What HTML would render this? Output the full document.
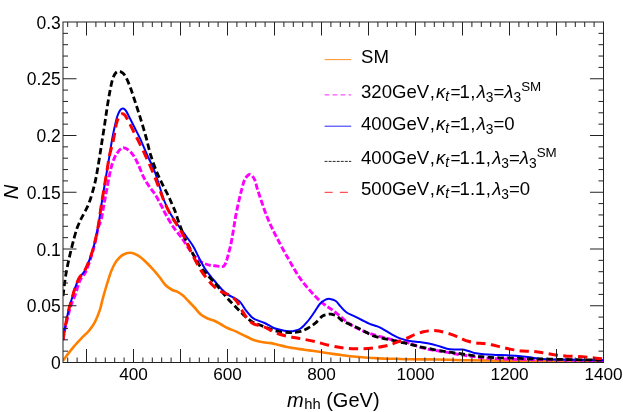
<!DOCTYPE html><html><head><meta charset="utf-8"><style>
html,body{margin:0;padding:0;background:#fff;}body{width:623px;height:412px;position:relative;overflow:hidden;font-family:"Liberation Sans",sans-serif;color:#000;}
.t{position:absolute;white-space:nowrap;font-size:17.2px;line-height:16px;}#tx{position:absolute;left:0;top:0;width:623px;height:412px;will-change:transform;}
.yl{font-size:17.5px;text-align:right;width:60px;left:0.8px;transform-origin:100% 50%;}
.xl{text-align:center;width:60px;transform-origin:50% 50%;}
.lg{font-size:18.6px;line-height:20px;left:361px;}.c{margin:0 1.2px 0 0.4px;}.e{margin:0 -1.0px 0 0.6px;display:inline-block;transform:scaleX(0.93);}
i{font-style:italic;}
sub.s{font-size:0.74em;vertical-align:baseline;position:relative;top:0.27em;line-height:0;}
sup.s{font-size:0.72em;vertical-align:baseline;position:relative;top:-0.54em;line-height:0;}
</style></head><body>
<svg width="623" height="412" viewBox="0 0 623 412" style="position:absolute;left:0;top:0">
<defs><clipPath id="c"><rect x="63.00" y="22.00" width="540.50" height="340.50"/></clipPath></defs>
<g clip-path="url(#c)" fill="none" stroke-linejoin="round">
<path d="M63.00 360.70 C63.63 359.83 65.03 357.82 66.80 355.50 C68.57 353.18 71.17 349.67 73.60 346.80 C76.03 343.93 78.82 341.00 81.40 338.30 C83.98 335.60 86.83 333.33 89.10 330.60 C91.37 327.87 93.22 325.30 95.00 321.90 C96.78 318.50 98.55 313.92 99.80 310.20 C101.05 306.48 101.68 302.67 102.50 299.60 C103.32 296.53 103.85 294.72 104.70 291.80 C105.55 288.88 106.47 285.65 107.60 282.10 C108.73 278.55 110.00 274.05 111.50 270.50 C113.00 266.95 114.75 263.38 116.60 260.80 C118.45 258.22 120.30 256.33 122.60 255.00 C124.90 253.67 127.80 252.70 130.40 252.80 C133.00 252.90 135.67 254.12 138.20 255.60 C140.73 257.08 142.98 259.25 145.60 261.70 C148.22 264.15 151.55 267.70 153.90 270.30 C156.25 272.90 157.77 274.85 159.70 277.30 C161.63 279.75 163.55 282.97 165.50 285.00 C167.45 287.03 169.45 288.38 171.40 289.50 C173.35 290.62 175.27 290.68 177.20 291.70 C179.13 292.72 181.07 293.97 183.00 295.60 C184.93 297.23 186.80 299.43 188.80 301.50 C190.80 303.57 193.00 305.82 195.00 308.00 C197.00 310.18 198.70 312.85 200.80 314.60 C202.90 316.35 205.33 317.47 207.60 318.50 C209.87 319.53 212.13 319.80 214.40 320.80 C216.67 321.80 218.93 323.27 221.20 324.50 C223.47 325.73 225.57 327.05 228.00 328.20 C230.43 329.35 233.22 330.23 235.80 331.40 C238.38 332.57 241.08 334.02 243.50 335.20 C245.92 336.38 248.32 337.60 250.30 338.50 C252.28 339.40 253.25 339.97 255.40 340.60 C257.55 341.23 260.60 341.88 263.20 342.30 C265.80 342.72 268.42 342.65 271.00 343.10 C273.58 343.55 276.12 344.37 278.70 345.00 C281.28 345.63 284.62 346.47 286.50 346.90 C288.38 347.33 287.80 347.23 290.00 347.60 C292.20 347.97 296.47 348.63 299.70 349.10 C302.93 349.57 305.83 349.92 309.40 350.40 C312.97 350.88 317.22 351.42 321.10 352.00 C324.98 352.58 328.82 353.32 332.70 353.90 C336.58 354.48 340.52 355.02 344.40 355.50 C348.28 355.98 352.12 356.42 356.00 356.80 C359.88 357.18 363.82 357.53 367.70 357.80 C371.58 358.07 374.77 358.23 379.30 358.40 C383.83 358.57 389.78 358.67 394.90 358.80 C400.02 358.93 404.25 359.10 410.00 359.20 C415.75 359.30 422.93 359.30 429.40 359.40 C435.87 359.50 442.32 359.65 448.80 359.80 C455.28 359.95 459.27 360.15 468.30 360.30 C477.33 360.45 492.72 360.57 503.00 360.70 C513.28 360.83 513.27 361.00 530.00 361.10 C546.73 361.20 591.17 361.27 603.40 361.30" stroke="#FF8000" stroke-width="2.60"/>
<path d="M63.00 340.00 C63.25 338.50 64.03 333.42 64.50 331.00 C64.97 328.58 65.23 327.92 65.80 325.50 C66.37 323.08 67.17 319.45 67.90 316.50 C68.63 313.55 69.42 310.38 70.20 307.80 C70.98 305.22 71.83 302.97 72.60 301.00 C73.37 299.03 74.07 297.95 74.80 296.00 C75.53 294.05 76.30 291.52 77.00 289.30 C77.70 287.08 78.25 284.62 79.00 282.70 C79.75 280.78 80.42 279.53 81.50 277.80 C82.58 276.07 84.12 275.10 85.50 272.30 C86.88 269.50 88.48 264.87 89.80 261.00 C91.12 257.13 92.33 253.02 93.40 249.10 C94.47 245.18 95.40 241.05 96.20 237.50 C97.00 233.95 97.37 230.78 98.20 227.80 C99.03 224.82 100.28 223.23 101.20 219.60 C102.12 215.97 102.80 210.85 103.70 206.00 C104.60 201.15 105.63 195.67 106.60 190.50 C107.57 185.33 108.53 179.53 109.50 175.00 C110.47 170.47 111.23 166.80 112.40 163.30 C113.57 159.80 114.70 156.60 116.50 154.00 C118.30 151.40 120.70 147.88 123.20 147.70 C125.70 147.52 129.08 150.30 131.50 152.90 C133.92 155.50 135.70 159.30 137.70 163.30 C139.70 167.30 141.57 173.02 143.50 176.90 C145.43 180.78 147.37 183.68 149.30 186.60 C151.23 189.52 153.15 191.33 155.10 194.40 C157.05 197.47 159.22 201.65 161.00 205.00 C162.78 208.35 163.87 211.00 165.80 214.50 C167.73 218.00 170.33 222.58 172.60 226.00 C174.87 229.42 177.70 232.75 179.40 235.00 C181.10 237.25 180.80 236.63 182.80 239.50 C184.80 242.37 188.68 248.70 191.40 252.20 C194.12 255.70 196.90 258.60 199.10 260.50 C201.30 262.40 202.88 262.83 204.60 263.60 C206.32 264.37 207.63 264.73 209.40 265.10 C211.17 265.47 213.43 265.57 215.20 265.80 C216.97 266.03 218.77 266.37 220.00 266.50 C221.23 266.63 221.88 266.75 222.60 266.60 C223.32 266.45 223.80 266.17 224.30 265.60 C224.80 265.03 225.22 264.05 225.60 263.20 C225.98 262.35 226.07 262.28 226.60 260.50 C227.13 258.72 228.10 255.13 228.80 252.50 C229.50 249.87 230.20 247.45 230.80 244.70 C231.40 241.95 231.88 238.95 232.40 236.00 C232.92 233.05 233.30 230.60 233.90 227.00 C234.50 223.40 235.17 218.77 236.00 214.40 C236.83 210.03 237.93 205.02 238.90 200.80 C239.87 196.58 240.82 192.67 241.80 189.10 C242.78 185.53 243.48 181.83 244.80 179.40 C246.12 176.97 248.08 174.50 249.70 174.50 C251.32 174.50 253.22 176.97 254.50 179.40 C255.78 181.83 256.27 185.53 257.40 189.10 C258.53 192.67 259.85 196.58 261.30 200.80 C262.75 205.02 264.40 210.03 266.10 214.40 C267.80 218.77 269.63 222.97 271.50 227.00 C273.37 231.03 275.12 234.40 277.30 238.60 C279.48 242.80 282.48 248.37 284.60 252.20 C286.72 256.03 288.13 258.33 290.00 261.60 C291.87 264.87 293.85 268.63 295.80 271.80 C297.75 274.97 299.43 277.58 301.70 280.60 C303.97 283.62 306.82 286.95 309.40 289.90 C311.98 292.85 314.60 295.78 317.20 298.30 C319.80 300.82 322.42 303.02 325.00 305.00 C327.58 306.98 330.12 308.28 332.70 310.20 C335.28 312.12 337.90 314.37 340.50 316.50 C343.10 318.63 345.72 321.12 348.30 323.00 C350.88 324.88 353.42 326.43 356.00 327.80 C358.58 329.17 360.88 330.05 363.80 331.20 C366.72 332.35 369.62 333.50 373.50 334.70 C377.38 335.90 383.22 337.37 387.10 338.40 C390.98 339.43 392.98 340.08 396.80 340.90 C400.62 341.72 406.18 342.27 410.00 343.30 C413.82 344.33 416.47 346.07 419.70 347.10 C422.93 348.13 426.17 348.85 429.40 349.50 C432.63 350.15 435.87 350.48 439.10 351.00 C442.33 351.52 445.57 352.02 448.80 352.60 C452.03 353.18 455.25 353.95 458.50 354.50 C461.75 355.05 465.05 355.45 468.30 355.90 C471.55 356.35 474.77 356.82 478.00 357.20 C481.23 357.58 484.15 357.93 487.70 358.20 C491.25 358.47 494.77 358.63 499.30 358.80 C503.83 358.97 509.78 359.07 514.90 359.20 C520.02 359.33 515.25 359.35 530.00 359.60 C544.75 359.85 591.17 360.52 603.40 360.70" stroke="#FF00FF" stroke-width="2.90" stroke-dasharray="6.1 2.4"/>
<path d="M63.00 340.00 C63.22 338.50 63.90 333.42 64.30 331.00 C64.70 328.58 64.92 327.92 65.40 325.50 C65.88 323.08 66.57 319.45 67.20 316.50 C67.83 313.55 68.42 310.80 69.20 307.80 C69.98 304.80 71.07 301.38 71.90 298.50 C72.73 295.62 73.42 292.95 74.20 290.50 C74.98 288.05 75.73 285.95 76.60 283.80 C77.47 281.65 78.12 279.65 79.40 277.60 C80.68 275.55 82.68 274.30 84.30 271.50 C85.92 268.70 87.65 264.53 89.10 260.80 C90.55 257.07 91.87 252.98 93.00 249.10 C94.13 245.22 95.08 241.05 95.90 237.50 C96.72 233.95 97.35 230.72 97.90 227.80 C98.45 224.88 98.65 223.63 99.20 220.00 C99.75 216.37 100.45 210.92 101.20 206.00 C101.95 201.08 102.80 196.00 103.70 190.50 C104.60 185.00 105.63 178.83 106.60 173.00 C107.57 167.17 108.60 161.00 109.50 155.50 C110.40 150.00 111.18 144.58 112.00 140.00 C112.82 135.42 113.52 131.95 114.40 128.00 C115.28 124.05 116.33 119.28 117.30 116.30 C118.27 113.32 119.23 111.40 120.20 110.10 C121.17 108.80 122.13 108.37 123.10 108.50 C124.07 108.63 124.87 109.27 126.00 110.90 C127.13 112.53 128.43 115.45 129.90 118.30 C131.37 121.15 133.02 124.45 134.80 128.00 C136.58 131.55 138.50 135.02 140.60 139.60 C142.70 144.18 145.15 150.43 147.40 155.50 C149.65 160.57 152.02 164.67 154.10 170.00 C156.18 175.33 158.27 182.50 159.90 187.50 C161.53 192.50 162.27 195.82 163.90 200.00 C165.53 204.18 167.25 208.27 169.70 212.60 C172.15 216.93 175.88 222.10 178.60 226.00 C181.32 229.90 183.55 232.60 186.00 236.00 C188.45 239.40 191.12 242.73 193.30 246.40 C195.48 250.07 197.15 254.28 199.10 258.00 C201.05 261.72 203.05 265.62 205.00 268.70 C206.95 271.78 208.87 274.07 210.80 276.50 C212.73 278.93 214.67 281.05 216.60 283.30 C218.53 285.55 220.45 288.07 222.40 290.00 C224.35 291.93 226.35 293.60 228.30 294.90 C230.25 296.20 232.48 296.92 234.10 297.80 C235.72 298.68 236.85 299.33 238.00 300.20 C239.15 301.07 239.72 301.33 241.00 303.00 C242.28 304.67 243.93 307.87 245.70 310.20 C247.47 312.53 250.05 315.47 251.60 317.00 C253.15 318.53 252.82 318.40 255.00 319.40 C257.18 320.40 261.47 321.52 264.70 323.00 C267.93 324.48 271.17 327.02 274.40 328.30 C277.63 329.58 281.50 330.22 284.10 330.70 C286.70 331.18 288.38 331.15 290.00 331.20 C291.62 331.25 292.03 331.45 293.80 331.00 C295.57 330.55 298.33 330.05 300.60 328.50 C302.87 326.95 305.20 324.28 307.40 321.70 C309.60 319.12 311.73 315.95 313.80 313.00 C315.87 310.05 317.83 306.22 319.80 304.00 C321.77 301.78 323.90 300.55 325.60 299.70 C327.30 298.85 328.30 298.68 330.00 298.90 C331.70 299.12 334.05 299.75 335.80 301.00 C337.55 302.25 338.75 304.53 340.50 306.40 C342.25 308.27 344.03 310.58 346.30 312.20 C348.57 313.82 351.52 314.80 354.10 316.10 C356.68 317.40 359.22 318.72 361.80 320.00 C364.38 321.28 367.00 322.73 369.60 323.80 C372.20 324.87 375.13 325.48 377.40 326.40 C379.67 327.32 380.93 328.05 383.20 329.30 C385.47 330.55 388.42 332.48 391.00 333.90 C393.58 335.32 396.12 336.73 398.70 337.80 C401.28 338.87 404.62 339.77 406.50 340.30 C408.38 340.83 408.12 340.73 410.00 341.00 C411.88 341.27 414.88 341.52 417.80 341.90 C420.72 342.28 424.27 342.68 427.50 343.30 C430.73 343.92 433.97 344.70 437.20 345.60 C440.43 346.50 443.98 348.05 446.90 348.70 C449.82 349.35 452.12 349.37 454.70 349.50 C457.28 349.63 460.13 349.25 462.40 349.50 C464.67 349.75 466.03 350.37 468.30 351.00 C470.57 351.63 473.42 352.75 476.00 353.30 C478.58 353.85 480.57 354.03 483.80 354.30 C487.03 354.57 491.52 354.73 495.40 354.90 C499.28 355.07 503.22 355.13 507.10 355.30 C510.98 355.47 514.88 355.57 518.70 355.90 C522.52 356.23 526.47 356.82 530.00 357.30 C533.53 357.78 535.98 358.45 539.90 358.80 C543.82 359.15 548.32 359.23 553.50 359.40 C558.68 359.57 562.68 359.65 571.00 359.80 C579.32 359.95 598.00 360.22 603.40 360.30" stroke="#0000FF" stroke-width="2.00"/>
<path d="M63.00 296.00 C63.25 294.02 63.97 288.03 64.50 284.10 C65.03 280.17 65.52 276.28 66.20 272.40 C66.88 268.52 67.75 264.68 68.60 260.80 C69.45 256.92 70.35 252.98 71.30 249.10 C72.25 245.22 73.32 241.05 74.30 237.50 C75.28 233.95 76.12 230.80 77.20 227.80 C78.28 224.80 79.62 222.00 80.80 219.50 C81.98 217.00 82.87 215.70 84.30 212.80 C85.73 209.90 87.70 206.78 89.40 202.10 C91.10 197.42 93.13 190.20 94.50 184.70 C95.87 179.20 96.62 174.60 97.60 169.10 C98.58 163.60 99.63 156.55 100.40 151.70 C101.17 146.85 101.48 144.60 102.20 140.00 C102.92 135.40 103.90 129.35 104.70 124.10 C105.50 118.85 106.18 113.68 107.00 108.50 C107.82 103.32 108.70 97.75 109.60 93.00 C110.50 88.25 111.47 83.23 112.40 80.00 C113.33 76.77 114.10 75.05 115.20 73.60 C116.30 72.15 117.65 71.30 119.00 71.30 C120.35 71.30 121.97 72.25 123.30 73.60 C124.63 74.95 125.73 76.82 127.00 79.40 C128.27 81.98 129.60 85.53 130.90 89.10 C132.20 92.67 133.52 96.92 134.80 100.80 C136.08 104.68 137.32 108.37 138.60 112.40 C139.88 116.43 141.20 120.65 142.50 125.00 C143.80 129.35 145.02 133.42 146.40 138.50 C147.78 143.58 149.03 149.83 150.80 155.50 C152.57 161.17 154.93 167.45 157.00 172.50 C159.07 177.55 161.42 182.13 163.20 185.80 C164.98 189.47 166.23 191.47 167.70 194.50 C169.17 197.53 170.82 201.33 172.00 204.00 C173.18 206.67 173.72 207.60 174.80 210.50 C175.88 213.40 177.47 218.45 178.50 221.40 C179.53 224.35 179.95 225.43 181.00 228.20 C182.05 230.97 183.40 234.82 184.80 238.00 C186.20 241.18 187.67 243.97 189.40 247.30 C191.13 250.63 193.25 254.60 195.20 258.00 C197.15 261.40 198.83 264.62 201.10 267.70 C203.37 270.78 206.22 273.58 208.80 276.50 C211.38 279.42 214.33 282.55 216.60 285.20 C218.87 287.85 220.45 290.07 222.40 292.40 C224.35 294.73 226.03 296.72 228.30 299.20 C230.57 301.68 233.42 304.65 236.00 307.30 C238.58 309.95 241.20 312.73 243.80 315.10 C246.40 317.47 249.02 319.88 251.60 321.50 C254.18 323.12 256.72 323.77 259.30 324.80 C261.88 325.83 264.50 326.73 267.10 327.70 C269.70 328.67 272.32 329.85 274.90 330.60 C277.48 331.35 280.08 331.87 282.60 332.20 C285.12 332.53 288.02 332.57 290.00 332.60 C291.98 332.63 292.73 332.62 294.50 332.40 C296.27 332.18 298.45 331.95 300.60 331.30 C302.75 330.65 305.00 329.82 307.40 328.50 C309.80 327.18 312.52 325.45 315.00 323.40 C317.48 321.35 320.30 317.68 322.30 316.20 C324.30 314.72 325.53 314.83 327.00 314.50 C328.47 314.17 329.45 313.92 331.10 314.20 C332.75 314.48 334.97 315.05 336.90 316.20 C338.83 317.35 340.43 319.70 342.70 321.10 C344.97 322.50 348.03 323.48 350.50 324.60 C352.97 325.72 355.17 326.67 357.50 327.80 C359.83 328.93 361.83 330.05 364.50 331.40 C367.17 332.75 370.38 334.73 373.50 335.90 C376.62 337.07 379.97 337.67 383.20 338.40 C386.43 339.13 389.67 339.58 392.90 340.30 C396.13 341.02 399.75 342.05 402.60 342.70 C405.45 343.35 407.15 343.53 410.00 344.20 C412.85 344.87 416.47 345.95 419.70 346.70 C422.93 347.45 426.17 348.05 429.40 348.70 C432.63 349.35 435.87 350.02 439.10 350.60 C442.33 351.18 445.57 351.72 448.80 352.20 C452.03 352.68 455.25 353.05 458.50 353.50 C461.75 353.95 465.05 354.43 468.30 354.90 C471.55 355.37 474.77 355.92 478.00 356.30 C481.23 356.68 484.15 356.95 487.70 357.20 C491.25 357.45 494.77 357.63 499.30 357.80 C503.83 357.97 509.78 358.03 514.90 358.20 C520.02 358.37 525.52 358.67 530.00 358.80 C534.48 358.93 534.97 358.87 541.80 359.00 C548.63 359.13 560.73 359.42 571.00 359.60 C581.27 359.78 598.00 360.02 603.40 360.10" stroke="#000000" stroke-width="2.80" stroke-dasharray="6.5 3.3"/>
<path d="M63.00 340.00 C63.22 338.50 63.90 333.42 64.30 331.00 C64.70 328.58 64.92 327.92 65.40 325.50 C65.88 323.08 66.57 319.45 67.20 316.50 C67.83 313.55 68.42 310.80 69.20 307.80 C69.98 304.80 71.07 301.38 71.90 298.50 C72.73 295.62 73.42 292.95 74.20 290.50 C74.98 288.05 75.73 285.95 76.60 283.80 C77.47 281.65 78.12 279.65 79.40 277.60 C80.68 275.55 82.68 274.30 84.30 271.50 C85.92 268.70 87.65 264.53 89.10 260.80 C90.55 257.07 91.87 252.98 93.00 249.10 C94.13 245.22 95.08 241.05 95.90 237.50 C96.72 233.95 97.35 230.72 97.90 227.80 C98.45 224.88 98.65 223.63 99.20 220.00 C99.75 216.37 100.45 210.92 101.20 206.00 C101.95 201.08 102.80 196.00 103.70 190.50 C104.60 185.00 105.63 178.83 106.60 173.00 C107.57 167.17 108.37 161.00 109.50 155.50 C110.63 150.00 112.27 145.23 113.40 140.00 C114.53 134.77 115.33 128.05 116.30 124.10 C117.27 120.15 118.23 118.02 119.20 116.30 C120.17 114.58 121.13 113.97 122.10 113.80 C123.07 113.63 123.87 113.92 125.00 115.30 C126.13 116.68 127.60 119.67 128.90 122.10 C130.20 124.53 131.33 126.98 132.80 129.90 C134.27 132.82 135.60 135.33 137.70 139.60 C139.80 143.87 142.82 149.93 145.40 155.50 C147.98 161.07 150.77 167.17 153.20 173.00 C155.63 178.83 157.95 185.25 160.00 190.50 C162.05 195.75 163.47 200.00 165.50 204.50 C167.53 209.00 170.12 213.83 172.20 217.50 C174.28 221.17 176.03 223.33 178.00 226.50 C179.97 229.67 182.10 232.87 184.00 236.50 C185.90 240.13 187.53 244.38 189.40 248.30 C191.27 252.22 193.25 256.28 195.20 260.00 C197.15 263.72 199.15 267.53 201.10 270.60 C203.05 273.67 204.97 275.97 206.90 278.40 C208.83 280.83 210.77 283.27 212.70 285.20 C214.63 287.13 216.55 288.70 218.50 290.00 C220.45 291.30 222.45 292.02 224.40 293.00 C226.35 293.98 228.18 294.57 230.20 295.90 C232.22 297.23 234.57 298.62 236.50 301.00 C238.43 303.38 239.93 307.20 241.80 310.20 C243.67 313.20 245.75 316.73 247.70 319.00 C249.65 321.27 251.23 322.63 253.50 323.80 C255.77 324.97 259.03 325.25 261.30 326.00 C263.57 326.75 264.92 327.25 267.10 328.30 C269.28 329.35 271.57 331.10 274.40 332.30 C277.23 333.50 280.87 334.63 284.10 335.50 C287.33 336.37 290.57 336.88 293.80 337.50 C297.03 338.12 299.97 338.52 303.50 339.20 C307.03 339.88 310.78 340.60 315.00 341.60 C319.22 342.60 324.55 344.22 328.80 345.20 C333.05 346.18 336.62 346.92 340.50 347.50 C344.38 348.08 348.22 348.50 352.10 348.70 C355.98 348.90 359.92 348.88 363.80 348.70 C367.68 348.52 371.85 348.05 375.40 347.60 C378.95 347.15 382.18 346.63 385.10 346.00 C388.02 345.37 390.42 344.63 392.90 343.80 C395.38 342.97 397.37 342.05 400.00 341.00 C402.63 339.95 406.27 338.55 408.70 337.50 C411.13 336.45 412.17 335.65 414.60 334.70 C417.03 333.75 420.90 332.45 423.30 331.80 C425.70 331.15 427.22 331.02 429.00 330.80 C430.78 330.58 432.33 330.47 434.00 330.50 C435.67 330.53 437.38 330.73 439.00 331.00 C440.62 331.27 441.30 331.42 443.70 332.10 C446.10 332.78 450.60 334.08 453.40 335.10 C456.20 336.12 458.02 337.17 460.50 338.20 C462.98 339.23 465.72 340.52 468.30 341.30 C470.88 342.08 473.42 342.52 476.00 342.90 C478.58 343.28 481.20 343.28 483.80 343.60 C486.40 343.92 489.02 344.30 491.60 344.80 C494.18 345.30 496.72 345.98 499.30 346.60 C501.88 347.22 504.50 347.93 507.10 348.50 C509.70 349.07 512.32 349.58 514.90 350.00 C517.48 350.42 520.05 350.78 522.60 351.00 C525.15 351.22 527.63 351.13 530.20 351.30 C532.77 351.47 535.42 351.67 538.00 352.00 C540.58 352.33 542.80 352.82 545.70 353.30 C548.60 353.78 552.17 354.47 555.40 354.90 C558.63 355.33 561.53 355.63 565.10 355.90 C568.67 356.17 572.92 356.25 576.80 356.50 C580.68 356.75 584.85 357.08 588.40 357.40 C591.95 357.72 595.60 358.13 598.10 358.40 C600.60 358.67 602.52 358.90 603.40 359.00" stroke="#FF0000" stroke-width="3.00" stroke-dasharray="9.3 5.4"/>
</g>
<path d="M67.70 362.50V357.50M67.70 22.00V27.00M77.10 362.50V357.50M77.10 22.00V27.00M86.50 362.50V349.00M86.50 22.00V35.50M95.90 362.50V357.50M95.90 22.00V27.00M105.30 362.50V357.50M105.30 22.00V27.00M114.70 362.50V357.50M114.70 22.00V27.00M124.10 362.50V357.50M124.10 22.00V27.00M133.50 362.50V349.00M133.50 22.00V35.50M142.90 362.50V357.50M142.90 22.00V27.00M152.30 362.50V357.50M152.30 22.00V27.00M161.70 362.50V357.50M161.70 22.00V27.00M171.10 362.50V357.50M171.10 22.00V27.00M180.50 362.50V349.00M180.50 22.00V35.50M189.90 362.50V357.50M189.90 22.00V27.00M199.30 362.50V357.50M199.30 22.00V27.00M208.70 362.50V357.50M208.70 22.00V27.00M218.10 362.50V357.50M218.10 22.00V27.00M227.50 362.50V349.00M227.50 22.00V35.50M236.90 362.50V357.50M236.90 22.00V27.00M246.30 362.50V357.50M246.30 22.00V27.00M255.70 362.50V357.50M255.70 22.00V27.00M265.10 362.50V357.50M265.10 22.00V27.00M274.50 362.50V349.00M274.50 22.00V35.50M283.90 362.50V357.50M283.90 22.00V27.00M293.30 362.50V357.50M293.30 22.00V27.00M302.70 362.50V357.50M302.70 22.00V27.00M312.10 362.50V357.50M312.10 22.00V27.00M321.50 362.50V349.00M321.50 22.00V35.50M330.90 362.50V357.50M330.90 22.00V27.00M340.30 362.50V357.50M340.30 22.00V27.00M349.70 362.50V357.50M349.70 22.00V27.00M359.10 362.50V357.50M359.10 22.00V27.00M368.50 362.50V349.00M368.50 22.00V35.50M377.90 362.50V357.50M377.90 22.00V27.00M387.30 362.50V357.50M387.30 22.00V27.00M396.70 362.50V357.50M396.70 22.00V27.00M406.10 362.50V357.50M406.10 22.00V27.00M415.50 362.50V349.00M415.50 22.00V35.50M424.90 362.50V357.50M424.90 22.00V27.00M434.30 362.50V357.50M434.30 22.00V27.00M443.70 362.50V357.50M443.70 22.00V27.00M453.10 362.50V357.50M453.10 22.00V27.00M462.50 362.50V349.00M462.50 22.00V35.50M471.90 362.50V357.50M471.90 22.00V27.00M481.30 362.50V357.50M481.30 22.00V27.00M490.70 362.50V357.50M490.70 22.00V27.00M500.10 362.50V357.50M500.10 22.00V27.00M509.50 362.50V349.00M509.50 22.00V35.50M518.90 362.50V357.50M518.90 22.00V27.00M528.30 362.50V357.50M528.30 22.00V27.00M537.70 362.50V357.50M537.70 22.00V27.00M547.10 362.50V357.50M547.10 22.00V27.00M556.50 362.50V349.00M556.50 22.00V35.50M565.90 362.50V357.50M565.90 22.00V27.00M575.30 362.50V357.50M575.30 22.00V27.00M584.70 362.50V357.50M584.70 22.00V27.00M594.10 362.50V357.50M594.10 22.00V27.00M63.00 351.15H68.00M603.50 351.15H598.50M63.00 339.80H68.00M603.50 339.80H598.50M63.00 328.45H68.00M603.50 328.45H598.50M63.00 317.10H68.00M603.50 317.10H598.50M63.00 305.75H76.50M603.50 305.75H590.00M63.00 294.40H68.00M603.50 294.40H598.50M63.00 283.05H68.00M603.50 283.05H598.50M63.00 271.70H68.00M603.50 271.70H598.50M63.00 260.35H68.00M603.50 260.35H598.50M63.00 249.00H76.50M603.50 249.00H590.00M63.00 237.65H68.00M603.50 237.65H598.50M63.00 226.30H68.00M603.50 226.30H598.50M63.00 214.95H68.00M603.50 214.95H598.50M63.00 203.60H68.00M603.50 203.60H598.50M63.00 192.25H76.50M603.50 192.25H590.00M63.00 180.90H68.00M603.50 180.90H598.50M63.00 169.55H68.00M603.50 169.55H598.50M63.00 158.20H68.00M603.50 158.20H598.50M63.00 146.85H68.00M603.50 146.85H598.50M63.00 135.50H76.50M603.50 135.50H590.00M63.00 124.15H68.00M603.50 124.15H598.50M63.00 112.80H68.00M603.50 112.80H598.50M63.00 101.45H68.00M603.50 101.45H598.50M63.00 90.10H68.00M603.50 90.10H598.50M63.00 78.75H76.50M603.50 78.75H590.00M63.00 67.40H68.00M603.50 67.40H598.50M63.00 56.05H68.00M603.50 56.05H598.50M63.00 44.70H68.00M603.50 44.70H598.50M63.00 33.35H68.00M603.50 33.35H598.50" stroke="#222" stroke-width="1" fill="none"/>
<rect x="63.00" y="22.00" width="540.50" height="340.50" fill="none" stroke="#222" stroke-width="1"/>
<line x1="324.60" y1="59.60" x2="351.20" y2="59.60" stroke="#FF8000" stroke-width="0.85"/>
<line x1="324.60" y1="94.90" x2="351.20" y2="94.90" stroke="#FF00FF" stroke-width="0.85" stroke-dasharray="4.7 3.3"/>
<line x1="324.60" y1="126.20" x2="351.20" y2="126.20" stroke="#0000FF" stroke-width="0.85"/>
<line x1="324.60" y1="161.40" x2="351.20" y2="161.40" stroke="#000000" stroke-width="0.85" stroke-dasharray="2.9 1.15"/>
<line x1="324.60" y1="192.30" x2="351.20" y2="192.30" stroke="#FF0000" stroke-width="0.85" stroke-dasharray="8.1 7.1"/>
</svg>
<div id="tx">
<div class="t yl" style="top:355.10px">0</div>
<div class="t yl" style="top:298.35px">0.05</div>
<div class="t yl" style="top:241.60px">0.1</div>
<div class="t yl" style="top:184.85px">0.15</div>
<div class="t yl" style="top:128.10px">0.2</div>
<div class="t yl" style="top:71.35px">0.25</div>
<div class="t yl" style="top:14.60px">0.3</div>
<div class="t xl" style="left:103.50px;top:366.00px">400</div>
<div class="t xl" style="left:197.50px;top:366.00px">600</div>
<div class="t xl" style="left:291.50px;top:366.00px">800</div>
<div class="t xl" style="left:385.50px;top:366.00px">1000</div>
<div class="t xl" style="left:479.50px;top:366.00px">1200</div>
<div class="t xl" style="left:573.50px;top:366.00px">1400</div>
<div class="t" style="font-size:20px;line-height:22px;left:233.25px;top:388.50px;width:200px;text-align:center"><i>m</i><sub class="s" style="top:0.14em;margin-left:0.6px">hh</sub> (GeV)</div>
<div class="t" style="font-size:20.2px;line-height:22px;left:-8.70px;top:180.70px;width:40px;height:22px;text-align:center;transform:rotate(-90deg);transform-origin:50% 50%"><i>N</i></div>
<div class="t lg" style="top:47.20px">SM</div>
<div class="t lg" style="top:82.00px">320GeV<span class="c">,</span><i>κ</i><sub class="s" style="top:0.2em"><i>t</i></sub><span class="e">=</span>1<span class="c">,</span><i>λ</i><sub class="s">3</sub>=<i>λ</i><sub class="s">3</sub><sup class="s">SM</sup></div>
<div class="t lg" style="top:114.00px">400GeV<span class="c">,</span><i>κ</i><sub class="s" style="top:0.2em"><i>t</i></sub><span class="e">=</span>1<span class="c">,</span><i>λ</i><sub class="s">3</sub>=0</div>
<div class="t lg" style="top:148.00px">400GeV<span class="c">,</span><i>κ</i><sub class="s" style="top:0.2em"><i>t</i></sub><span class="e">=</span>1.1<span class="c">,</span><i>λ</i><sub class="s">3</sub>=<i>λ</i><sub class="s">3</sub><sup class="s">SM</sup></div>
<div class="t lg" style="top:179.00px">500GeV<span class="c">,</span><i>κ</i><sub class="s" style="top:0.2em"><i>t</i></sub><span class="e">=</span>1.1<span class="c">,</span><i>λ</i><sub class="s">3</sub>=0</div>
</div>
</body></html>
